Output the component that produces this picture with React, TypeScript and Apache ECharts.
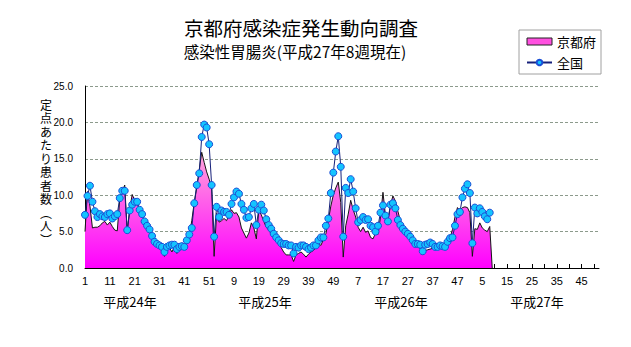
import React, { useEffect, useRef } from 'react';
import * as echarts from 'echarts';

// ---- data (per sentinel, weekly) ----
const yearLabels = ['平成24年', '平成25年', '平成26年', '平成27年'];
const weeksPerYear = 52;
const yearCount = 4;
const yAxisName = ['定', '点', 'あ', 'た', 'り', '患', '者', '数', '︵', '人', '︶'];

// 京都府 (Kyoto prefecture)
const kyoto2012 = [
  5.0, 10.5, 8.5, 5.5, 5.6, 5.6, 5.8, 6.2, 6.4, 5.9,
  6.3, 5.7, 5.2, 5.1, 9.5, 10.5, 11.4, 5.0, 8.0, 10.1,
  9.3, 8.8, 8.0, 7.4, 6.6, 5.7, 5.0, 4.6, 4.0, 3.4,
  3.0, 2.8, 1.6, 2.5, 2.8, 2.2, 2.9, 2.0, 2.7, 2.8,
  3.0, 3.4, 4.4, 6.5, 9.0, 11.0, 13.5, 15.9, 14.5, 13.2,
  12.2, 11.0,
];
const kyoto2013 = [
  1.6, 7.5, 6.3, 6.5, 6.8, 6.5, 7.3, 8.0, 7.5, 7.6,
  7.0, 5.5, 4.8, 4.1, 4.8, 6.2, 5.5, 4.0, 8.0, 7.3,
  6.4, 5.6, 5.2, 4.7, 4.2, 3.8, 3.3, 2.8, 2.2, 1.8,
  1.8, 1.8, 0.9, 1.8, 2.0, 2.2, 1.9, 1.5, 1.9, 2.2,
  2.4, 2.8, 3.4, 3.1, 3.9, 4.7, 6.5, 8.5, 10.0, 11.0,
  11.8, 9.0,
];
const kyoto2014 = [
  1.5, 5.8, 7.4, 9.3, 8.0, 7.0, 5.6, 5.0, 5.6, 4.9,
  5.1, 4.2, 4.0, 4.8, 4.6, 7.0, 10.4, 7.2, 6.5, 8.6,
  9.9, 9.2, 7.8, 6.5, 5.7, 5.1, 4.7, 4.3, 4.0, 3.4,
  2.9, 2.7, 1.9, 2.4, 2.5, 2.6, 2.7, 2.8, 2.9, 3.0,
  3.1, 3.4, 3.8, 4.1, 5.3, 7.0, 8.3, 7.9, 8.3, 8.4,
  8.3, 7.6,
];
// weeks 1-8 reported; the original area drops to zero at week 9
const kyoto2015 = [1.6, 5.4, 5.3, 6.2, 5.5, 5.2, 5.0, 5.7, 0];

// 全国 (national)
const zenkoku2012 = [
  7.3, 9.9, 11.3, 9.1, 7.8, 7.0, 7.4, 7.1, 7.0, 7.4,
  7.5, 6.8, 7.1, 7.4, 9.6, 10.6, 10.6, 5.2, 7.9, 8.7,
  9.1, 9.1, 8.0, 7.4, 6.4, 5.8, 5.3, 4.4, 3.6, 3.3,
  3.1, 2.9, 2.2, 2.9, 3.1, 3.2, 3.2, 2.6, 2.9, 3.0,
  2.9, 3.8, 4.6, 5.5, 8.9, 11.4, 13.0, 18.0, 19.7, 19.3,
  17.0, 11.4,
];
const zenkoku2013 = [
  4.3, 8.4, 7.0, 7.9, 7.7, 7.7, 7.3, 8.8, 9.7, 10.5,
  10.2, 8.8, 8.0, 6.9, 7.0, 8.2, 8.8, 5.9, 8.0, 8.7,
  7.9, 6.7, 5.9, 5.4, 4.7, 4.2, 3.8, 3.4, 3.3, 3.3,
  3.1, 3.1, 2.0, 2.9, 2.8, 3.1, 3.1, 2.9, 2.6, 2.8,
  3.1, 3.1, 3.8, 4.2, 4.2, 5.8, 6.8, 10.3, 13.1, 16.0,
  18.1, 13.9,
];
const zenkoku2014 = [
  4.3, 11.0, 10.3, 12.2, 10.5, 8.2, 6.3, 6.6, 7.0, 6.6,
  6.7, 5.8, 5.6, 5.0, 5.8, 7.6, 8.6, 7.2, 6.4, 8.7,
  8.9, 8.2, 6.6, 5.9, 5.4, 5.0, 4.7, 4.3, 3.8, 3.3,
  3.3, 3.2, 2.3, 3.2, 3.3, 3.5, 3.3, 2.9, 2.9, 3.1,
  3.0, 2.9, 3.6, 4.1, 4.2, 5.8, 7.4, 7.7, 9.7, 10.9,
  11.5, 10.3,
];
const zenkoku2015 = [3.4, 8.3, 7.5, 8.2, 7.7, 7.1, 6.7, 7.6];

const yTicks = [0, 5, 10, 15, 20, 25];

const kyoto = [...kyoto2012, ...kyoto2013, ...kyoto2014, ...kyoto2015];
const zenkoku = [...zenkoku2012, ...zenkoku2013, ...zenkoku2014, ...zenkoku2015];

const categories: string[] = [];
for (let y = 0; y < yearCount; y++) {
  for (let w = 1; w <= weeksPerYear; w++) categories.push(String(w));
}

const CJK = '"Noto Sans CJK JP", "Noto Sans", sans-serif';
const LAT = '"Liberation Sans", Arial, sans-serif';

export default function App() {
  const ref = useRef<HTMLDivElement>(null);

  useEffect(() => {
    if (!ref.current) return;
    const chart = echarts.init(ref.current, undefined, { renderer: 'svg' });

    const yearX = [130, 265, 401, 537];

    const option: any = {
      animation: false,
      backgroundColor: '#ffffff',
      title: [
        {
          text: '京都府感染症発生動向調査',
          left: 301,
          top: 18,
          textAlign: 'center',
          padding: 0,
          textStyle: { fontFamily: CJK, fontSize: 19.5, fontWeight: 'normal', color: '#000' },
        },
        {
          text: '感染性胃腸炎(平成27年8週現在)',
          left: 295,
          top: 43,
          textAlign: 'center',
          padding: 0,
          textStyle: { fontFamily: CJK, fontSize: 15.5, fontWeight: 'normal', color: '#000' },
        },
      ],
      legend: {
        orient: 'vertical',
        left: 519,
        top: 30,
        padding: [5, 5, 5, 7],
        itemGap: 8,
        itemWidth: 25,
        itemHeight: 7,
        borderColor: '#a0a0a0',
        borderWidth: 1,
        backgroundColor: '#ffffff',
        textStyle: { fontFamily: CJK, fontSize: 13, color: '#000' },
        data: [
          {
            name: '京都府',
            icon: 'rect',
            itemStyle: { color: '#ff50e0', borderColor: '#222', borderWidth: 1 },
          },
          { name: '全国' },
        ],
      },
      grid: { left: 85, top: 86, right: 32, bottom: 79 },
      xAxis: {
        type: 'category',
        data: categories,
        boundaryGap: false,
        axisLine: { lineStyle: { color: '#000', width: 1 } },
        axisTick: { inside: true, interval: 4, length: 4, lineStyle: { color: '#000' } },
        axisLabel: { interval: 9, margin: 7, fontSize: 11, fontFamily: LAT, color: '#000' },
        splitLine: { show: false },
      },
      yAxis: {
        type: 'value',
        min: yTicks[0],
        max: yTicks[yTicks.length - 1],
        interval: 5,
        axisLine: { show: true, lineStyle: { color: '#000', width: 1 } },
        axisTick: { show: false },
        axisLabel: {
          margin: 12,
          fontSize: 10,
          fontFamily: LAT,
          color: '#000',
          formatter: (v: number) => v.toFixed(1),
        },
        splitLine: { show: true, lineStyle: { color: '#8c9a8c', type: [3, 2], width: 1 } },
      },
      graphic: [
        ...yAxisName.map((ch, i) => ({
          type: 'text',
          x: 46,
          y: 104 + i * 13.5,
          style: {
            text: ch,
            font: `12px ${CJK}`,
            lineHeight: 12,
            fill: '#000',
            textAlign: 'center',
            textVerticalAlign: 'middle',
          },
        })),
        ...yearLabels.map((t, i) => ({
          type: 'text',
          x: yearX[i],
          y: 301,
          style: {
            text: t,
            font: `13px ${CJK}`,
            fill: '#000',
            textAlign: 'center',
            textVerticalAlign: 'middle',
          },
        })),
      ],
      series: [
        {
          name: '京都府',
          type: 'line',
          data: kyoto,
          symbol: 'none',
          showSymbol: false,
          lineStyle: { color: '#141414', width: 1 },
          itemStyle: { color: '#ff50e0' },
          areaStyle: {
            opacity: 1,
            color: new echarts.graphic.LinearGradient(0, 0, 0, 1, [
              { offset: 0, color: '#ffa6da' },
              { offset: 1, color: '#ff00ff' },
            ]),
          },
          z: 2,
        },
        {
          name: '全国',
          type: 'line',
          data: zenkoku,
          symbol: 'circle',
          symbolSize: 7,
          showSymbol: true,
          showAllSymbol: true,
          lineStyle: { color: '#16207a', width: 1 },
          itemStyle: { color: '#14c4ff', borderColor: '#1a4fd6', borderWidth: 1 },
          z: 3,
        },
      ],
    };

    chart.setOption(option);
    return () => chart.dispose();
  }, []);

  return <div ref={ref} style={{ width: 631, height: 347, margin: -8 }} />;
}
